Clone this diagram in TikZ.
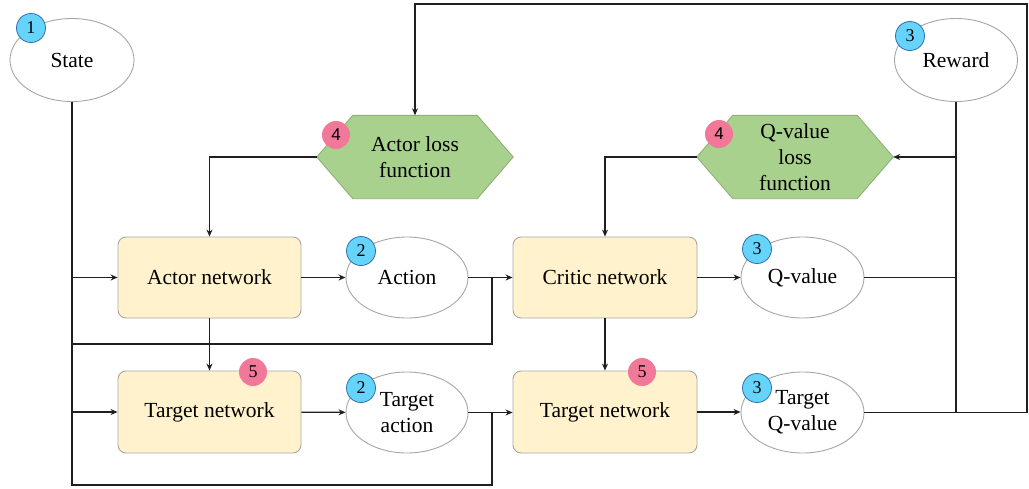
\documentclass[tikz,border=0pt]{standalone}
\usepackage{fontspec}
\setmainfont{Liberation Serif}
\newfontfamily\badgesans{Liberation Sans}
\usetikzlibrary{arrows.meta,shapes.geometric,calc}
\definecolor{boxfill}{HTML}{FFF2CC}
\definecolor{boxline}{HTML}{A6A6A6}
\definecolor{hexfill}{HTML}{A9D18E}
\definecolor{hexline}{HTML}{8FAF78}
\definecolor{bluefill}{HTML}{66D4FA}
\definecolor{blueline}{HTML}{2F6FB0}
\definecolor{pinkfill}{HTML}{F2789A}
\definecolor{wire}{HTML}{1F1F1F}
\pgfdeclarelayer{bg}
\pgfsetlayers{bg,main}
\newcommand\hexshape[1]{%
  \begin{pgfonlayer}{bg}
  \filldraw[draw=hexline,fill=hexfill,line width=0.9pt]
    (#1.west) -- ([xshift=36pt]#1.north west) -- ([xshift=-36pt]#1.north east)
    -- (#1.east) -- ([xshift=-36pt]#1.south east) -- ([xshift=36pt]#1.south west) -- cycle;
  \end{pgfonlayer}}
\begin{document}
\begin{tikzpicture}[x=1pt,y=-1pt,
  every node/.style={font=\fontsize{21.5}{26}\selectfont, align=center},
  netbox/.style={draw=boxline, fill=boxfill, rounded corners=8pt, minimum width=183pt, minimum height=81pt, line width=0.9pt},
  valell/.style={ellipse, draw=boxline, fill=white, minimum width=122pt, minimum height=81pt, line width=0.9pt, inner sep=0pt},
  hexbase/.style={minimum width=196pt, minimum height=83pt, inner sep=0pt},
  bluebadge/.style={circle, draw=blueline, fill=bluefill, minimum size=29pt, inner sep=0pt, line width=0.8pt, font=\fontsize{18}{18}\selectfont},
  pinkbadge/.style={circle, fill=pinkfill, minimum size=28pt, inner sep=0pt, font=\fontsize{18}{18}\selectfont},
  wireline/.style={draw=wire, line width=1.2pt},
  arr/.style={wireline, -{Stealth[length=7pt,width=6pt]}}
]
\useasboundingbox (0,0) rectangle (1029,488);

% nodes
\node[valell, minimum width=124pt, minimum height=83pt] (state) at (72,60) {State};
\node[valell, minimum width=123pt, minimum height=83pt] (reward) at (956,60) {Reward};
\node[hexbase] (al) at (415,157) {Actor loss\\function};
\hexshape{al}
\node[hexbase] (ql) at (795,157) {Q-value\\loss\\function};
\hexshape{ql}
\node[netbox] (actor) at (209.5,277.5) {Actor network};
\node[valell] (action) at (407,277.5) {Action};
\node[netbox, minimum width=184pt] (critic) at (605,277.5) {Critic network};
\node[valell, minimum width=123pt] (qval) at (802.5,277.5) {Q-value};
\node[netbox, minimum height=82pt] (tactor) at (209.5,412) {Target network};
\node[valell] (taction) at (407,412.5) {Target\\action};
\node[netbox, minimum width=184pt, minimum height=82pt] (tcritic) at (605,412) {Target network};
\node[valell, minimum width=123pt] (tq) at (802.5,412.5) {Target\\Q-value};

% junctions
\coordinate (j1) at (492,344);
\coordinate (j2) at (492,485);
\coordinate (tr) at (1027,4);

% connectors
\draw[arr] (state.south) |- (actor.west);
\draw[arr] (state.south) |- (tactor.west);
\draw[wireline] (state.south) |- (j1) -- (j1 |- critic.west);
\draw[wireline] (state.south) |- (j2) -- (j2 |- tcritic.west);
\draw[arr] (actor) -- (action);
\draw[arr] (action) -- (critic);
\draw[arr] (critic) -- (qval);
\draw[arr] (tactor) -- (taction);
\draw[arr] (taction.east) -- (taction.east -| tcritic.west);
\draw[arr] (tcritic) -- (tq.west |- tcritic.east);
\draw[arr] (actor.south) -- (tactor.north);
\draw[arr] (critic.south) -- (tcritic.north);
\draw[arr] (al.west) -| (actor.north);
\draw[arr] (ql.west) -| (critic.north);
\draw[wireline] (qval.east) -- (qval.east -| reward.south);
\draw[wireline] (reward.south) -- (reward.south |- tq.east);
\draw[arr] (reward.south |- ql.east) -- (ql.east);
\draw[arr] (tq.east) -| (tr) -| (al.north);

% badges
\node[bluebadge] (b1) at (31,28) {1};
\node[bluebadge] (b3r) at (910,36) {3};
\node[pinkbadge, font=\badgesans\fontsize{17}{17}\selectfont] (b4a) at (336,135) {4};
\node[pinkbadge, font=\badgesans\fontsize{17}{17}\selectfont] (b4q) at (719,134) {4};
\node[bluebadge] (b2a) at (361,251) {2};
\node[bluebadge] (b2t) at (361,388) {2};
\node[bluebadge] (b3q) at (757,249) {3};
\node[bluebadge] (b3t) at (757,388) {3};
\node[pinkbadge] (b5a) at (253,372) {5};
\node[pinkbadge] (b5c) at (642,372) {5};
\end{tikzpicture}
\end{document}
